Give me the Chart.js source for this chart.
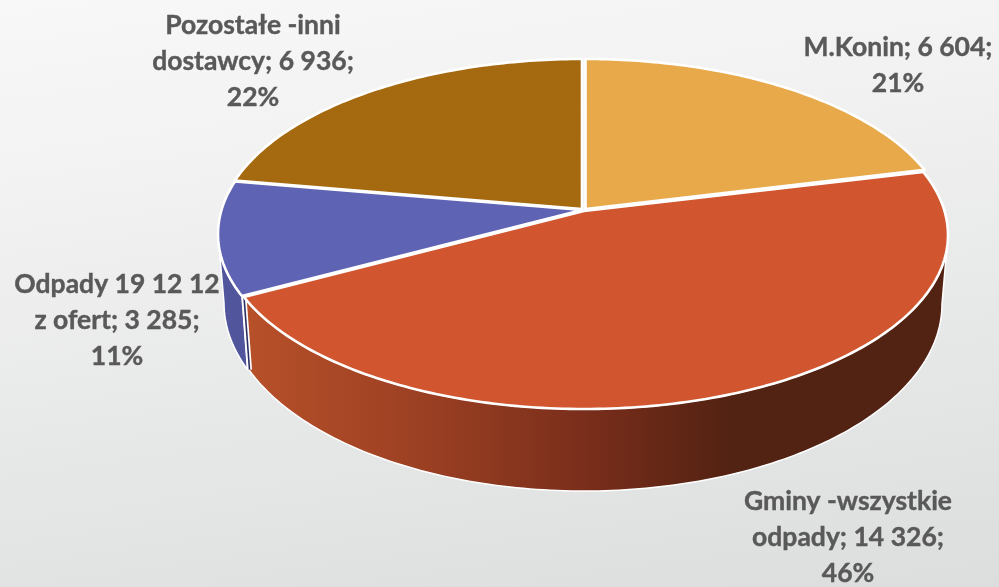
<!DOCTYPE html>
<html lang="pl">
<head>
    <meta charset="UTF-8">
    <title>Dostawy odpadów</title>
    <script src="https://cdn.jsdelivr.net/npm/chart.js"></script>
    <style>
        html, body { margin: 0; padding: 0; }
        body { width: 999px; height: 587px; overflow: hidden; background: linear-gradient(172deg, #f8f8f8 0%, #f1f1f1 30%, #e6e7e7 65%, #dcdddd 100%); }
        canvas { display: block; }
    </style>
</head>
<body>
    <canvas id="pie" width="999" height="587"></canvas>

    <script>
        const categories = ["M.Konin", "Gminy", "Odpady 19 12 12", "Pozostałe"];
        const nameLines = [["M.Konin"], ["Gminy -wszystkie", "odpady"], ["Odpady 19 12 12", "z ofert"], ["Pozostałe -inni", "dostawcy"]];
        const values = [6604, 14326, 3285, 6936];
        const colors = ["#e8a94a", "#d1562f", "#5f63b3", "#a56a0f"];

        // where each label block sits (centre x, first line y)
        const labelAt = [[898, 47], [848, 501], [117, 284], [253, 25]];
        // small pull-out of each slice
        const sliceShift = [[2.5, -1], [1, 1], [-1, 0], [-1, -1]];

        // perspective of the disc
        const cx = 583, cy = 210, rx = 360.5, ry = 170.7, k = 0.138;
        const ellY = 234, wallY = 303, wallRx = 358 / 364, wallRy = 187 / 174;

        function project(a) {
            const u = Math.sin(a), v = -Math.cos(a), w = 1 - k * v;
            return [cx + rx * u / w, cy + ry * v / w];
        }

        function wallPoint(p) {
            return [cx + (p[0] - cx) * wallRx, wallY + (p[1] - ellY) * wallRy];
        }

        function rim(a0, a1) {
            const n = Math.max(2, Math.ceil((a1 - a0) * 60)), pts = [];
            for (let i = 0; i <= n; i++) pts.push(project(a0 + (a1 - a0) * i / n));
            return pts;
        }

        function drawWall(ctx, a0, a1, fill) {
            const top = rim(a0, a1), low = top.map(wallPoint).reverse();
            ctx.beginPath();
            top.concat(low).forEach((p, i) => i ? ctx.lineTo(p[0], p[1]) : ctx.moveTo(p[0], p[1]));
            ctx.closePath();
            ctx.fillStyle = fill;
            ctx.fill();
            ctx.strokeStyle = "#fff";
            ctx.lineWidth = 1.5;
            ctx.stroke();
        }

        const pie3d = {
            id: "pie3d",
            beforeDatasetsDraw(chart) {
                const ctx = chart.ctx, arcs = chart.getDatasetMeta(0).data;
                const front0 = Math.acos(-k), front1 = 2 * Math.PI - front0;
                ctx.save();
                ctx.lineJoin = "round";

                // side walls, only the part turned towards us
                const shade = ctx.createLinearGradient(250, 0, 730, 0);
                shade.addColorStop(0, "#b65029");
                shade.addColorStop(0.35, "#9c4023");
                shade.addColorStop(0.73, "#762c1a");
                shade.addColorStop(1, "#522212");
                const wallFill = ["#c98f3c", shade, "#50559c", "#7d5009"];
                arcs.forEach((arc, i) => {
                    const a0 = Math.max(arc.startAngle + Math.PI / 2, front0);
                    const a1 = Math.min(arc.endAngle + Math.PI / 2, front1);
                    if (a1 <= a0) return;
                    ctx.save();
                    ctx.translate(sliceShift[i][0], sliceShift[i][1]);
                    drawWall(ctx, a0, a1, wallFill[i]);
                    ctx.restore();
                });

                // cut face of the blue slice next to the red one
                const cut = project(arcs[2].startAngle + Math.PI / 2), cutLow = wallPoint(cut);
                ctx.strokeStyle = "#fff";
                ctx.lineWidth = 5;
                ctx.beginPath();
                ctx.moveTo(cut[0] + 1, cut[1]);
                ctx.lineTo(cutLow[0] + 1, cutLow[1]);
                ctx.stroke();
                ctx.strokeStyle = "#2b2e63";
                ctx.lineWidth = 1.6;
                ctx.stroke();

                // top faces
                arcs.forEach((arc, i) => {
                    const pts = rim(arc.startAngle + Math.PI / 2, arc.endAngle + Math.PI / 2);
                    ctx.save();
                    ctx.translate(sliceShift[i][0], sliceShift[i][1]);
                    ctx.beginPath();
                    ctx.moveTo(cx, cy);
                    pts.forEach(p => ctx.lineTo(p[0], p[1]));
                    ctx.closePath();
                    ctx.fillStyle = arc.options.backgroundColor;
                    ctx.fill();
                    ctx.strokeStyle = "#fff";
                    ctx.lineWidth = 2.6;
                    ctx.stroke();
                    ctx.restore();
                });
                ctx.restore();
                return false;
            },
            afterDraw(chart) {
                const ctx = chart.ctx;
                const total = values.reduce((a, b) => a + b, 0);
                ctx.save();
                ctx.font = "bold 26.5px Lato, 'Open Sans', sans-serif";
                ctx.fillStyle = "#595959";
                ctx.strokeStyle = "#595959";
                ctx.lineWidth = 0.4;
                ctx.textAlign = "center";
                ctx.textBaseline = "middle";
                values.forEach((v, i) => {
                    const lines = nameLines[i].slice();
                    const amount = String(v).replace(/\B(?=(\d{3})+$)/g, " ");
                    lines[lines.length - 1] += "; " + amount + ";";
                    lines.push(Math.round(v / total * 100) + "%");
                    lines.forEach((t, j) => {
                        ctx.fillText(t, labelAt[i][0], labelAt[i][1] + j * 36);
                        ctx.strokeText(t, labelAt[i][0], labelAt[i][1] + j * 36);
                    });
                });
                ctx.restore();
            }
        };

        new Chart(document.getElementById("pie"), {
            type: "pie",
            data: {
                labels: categories,
                datasets: [{ data: values, backgroundColor: colors, borderWidth: 0 }]
            },
            options: {
                responsive: false,
                animation: false,
                plugins: { legend: { display: false }, tooltip: { enabled: false } }
            },
            plugins: [pie3d]
        });
    </script>
</body>
</html>
